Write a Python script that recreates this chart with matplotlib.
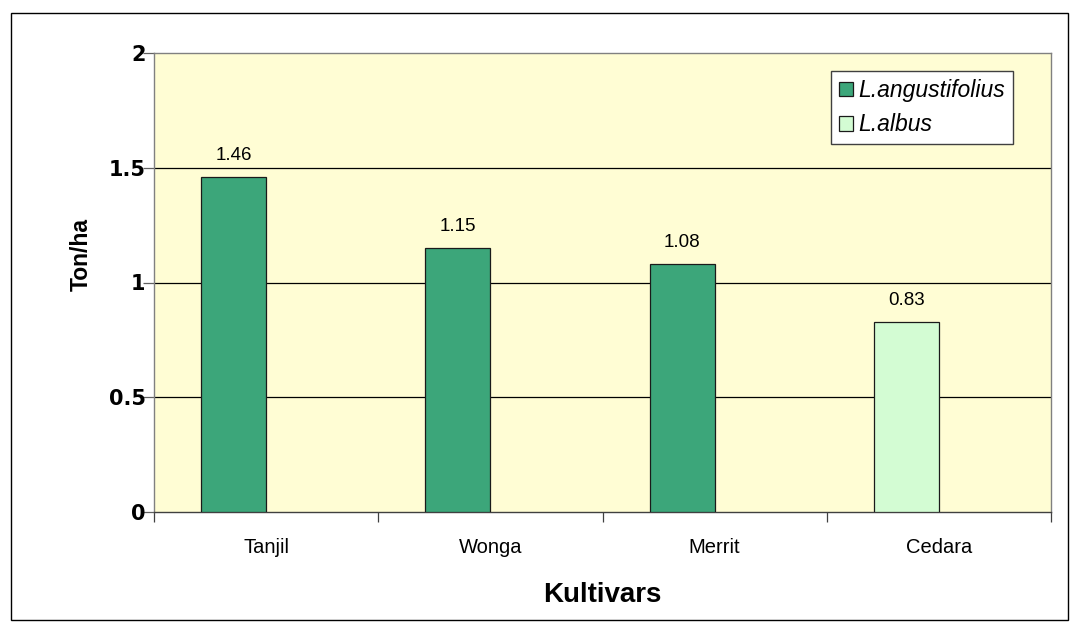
import matplotlib
matplotlib.use("Agg")
import matplotlib.pyplot as plt
from matplotlib.patches import Rectangle, Patch

# Data
categories = ["Tanjil", "Wonga", "Merrit", "Cedara"]
values = [1.46, 1.15, 1.08, 0.83]
species = ["L.angustifolius", "L.angustifolius", "L.angustifolius", "L.albus"]
value_labels = ["1.46", "1.15", "1.08", "0.83"]
yticks = [0, 0.5, 1, 1.5, 2]
ytick_labels = ["0", "0.5", "1", "1.5", "2"]
legend_names = ["L.angustifolius", "L.albus"]

colors = {"L.angustifolius": "#3CA67A", "L.albus": "#D3FCD3"}

W, H = 1080, 632
fig = plt.figure(figsize=(W / 100, H / 100), dpi=100)
fig.patch.set_facecolor("white")

# Outer chart border
fig.add_artist(Rectangle((11 / W, 1 - 620 / H), (1068 - 11) / W, (620 - 13) / H,
                         transform=fig.transFigure, fill=False,
                         edgecolor="black", linewidth=1.0))

L, R, T, B = 154, 1051, 53, 512
ax = fig.add_axes([L / W, 1 - B / H, (R - L) / W, (B - T) / H])
ax.set_facecolor("#FFFDD4")

x = list(range(len(categories)))
bw = 0.29
bar_x = [i - bw for i in x]
bars = ax.bar(bar_x, values, width=bw, align="edge",
              color=[colors[s] for s in species],
              edgecolor="#1a1a1a", linewidth=0.9, zorder=3)

for bx, v, lab in zip(bar_x, values, value_labels):
    ax.annotate(lab, (bx + bw / 2, v), xytext=(0, 12), textcoords="offset points",
                ha="center", va="baseline", fontsize=13.5,
                family="Liberation Sans", color="black")

ax.set_xlim(-0.5, len(categories) - 0.5)
ax.set_ylim(0, 2)

# Gridlines
for yv in yticks[1:-1]:
    ax.axhline(yv, color="black", linewidth=0.9, zorder=1)

# y ticks
ax.set_yticks(yticks)
ax.set_yticklabels(ytick_labels, family="DejaVu Sans", fontsize=15, fontweight="bold")
ax.tick_params(axis="y", direction="out", length=8, width=0.9, color="#606060", pad=-2)

# x ticks: boundaries (major, no labels), labels at centers (minor)
ax.set_xticks([i - 0.5 for i in range(len(categories) + 1)])
ax.set_xticklabels([])
ax.set_xticks(x, minor=True)
ax.set_xticklabels(categories, minor=True, family="Liberation Sans", fontsize=14.5)
ax.tick_params(axis="x", which="major", direction="out", length=7, width=0.9, color="#404040")
ax.tick_params(axis="x", which="minor", length=0, pad=19)

for s in ["left", "top", "right"]:
    ax.spines[s].set_color("#808080")
    ax.spines[s].set_linewidth(1.0)
ax.spines["bottom"].set_color("#404040")
ax.spines["bottom"].set_linewidth(1.0)

ax.set_ylabel("Ton/ha", family="Liberation Sans", fontsize=16.5, fontweight="bold")
ax.yaxis.set_label_coords(-0.068, 0.56)
ax.set_xlabel("Kultivars", family="Liberation Sans", fontsize=20, fontweight="bold")
ax.xaxis.set_label_coords(0.5, -0.152)

handles = [Patch(facecolor=colors[n], edgecolor="#1a1a1a", linewidth=0.9) for n in legend_names]
leg = ax.legend(handles, legend_names, loc="upper right",
                bbox_to_anchor=(0.958, 0.961), bbox_transform=ax.transAxes,
                borderaxespad=0, fancybox=False, framealpha=1,
                prop={"family": "Liberation Sans", "style": "italic", "size": 16.5},
                handlelength=0.6, handleheight=0.6, handletextpad=0.25,
                labelspacing=0.5, borderpad=0.35)
leg.get_frame().set_edgecolor("#404040")
leg.get_frame().set_linewidth(1.0)
leg.set_zorder(5)

fig.savefig("out.png", dpi=100)
